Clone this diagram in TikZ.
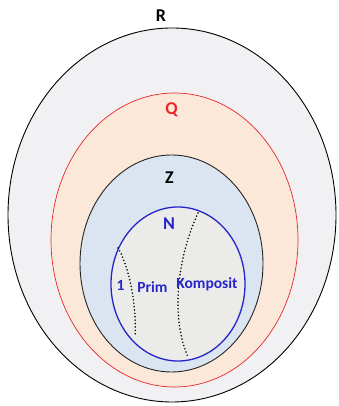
\documentclass[tikz,border=0pt]{standalone}
\usepackage{fontspec}
\setmainfont{Carlito}
\usepackage{xcolor}
\usepackage{tikz}
\usetikzlibrary{positioning, shapes.geometric}

\definecolor{setgray}{HTML}{F1F1F3}
\definecolor{setpeach}{HTML}{FCE8D8}
\definecolor{setblue}{HTML}{DBE5F1}
\definecolor{setspeck}{HTML}{EBEBEA}
\definecolor{qred}{HTML}{E8262A}
\definecolor{nblue}{HTML}{2626C8}

\begin{document}
\begin{tikzpicture}[
    x=1pt, y=1pt,
    numset/.style={ellipse, draw, inner sep=0pt},
    setlabel/.style={font=\fontsize{18}{21}\selectfont\bfseries, inner sep=0pt},
    partlabel/.style={font=\fontsize{15.5}{18}\selectfont\bfseries, text=nblue, inner sep=0pt},
    divider/.style={line width=1.7pt, line cap=round, dash pattern=on 0pt off 3.4pt}
]
\useasboundingbox (0,0) rectangle (339,406);

\node[numset, fill=setgray, line width=0.9pt, minimum width=328pt, minimum height=374pt] (setR) at (172,191) {};
\node[numset, fill=setpeach, draw=qred, line width=0.7pt, minimum width=247pt, minimum height=294pt] (setQ) at (174.5,166) {};
\node[numset, fill=setblue, draw=black!85, line width=0.9pt, minimum width=183pt, minimum height=217pt] (setZ) at (171.5,142.5) {};
\node[numset, fill=setspeck, draw=nblue, line width=1.3pt, minimum width=134pt, minimum height=154pt] (setN) at (178,122) {};

\node[setlabel, above=6pt of setR.north, xshift=-11pt] (labR) {R};
\node[setlabel, text=qred, below=10pt of setQ.north, xshift=-3pt] (labQ) {Q};
\node[setlabel, below=17pt of setZ.north, xshift=-2pt] (labZ) {Z};
\node[setlabel, text=nblue, below=11pt of setN.north, xshift=-9pt] (labN) {N};

% splitting N into 1, Prim, Komposit
\coordinate (d1a) at (118,158);
\coordinate (d1b) at (135,69);
\coordinate (d2a) at (198,193);
\coordinate (d2b) at (188,49);
\draw[divider] (d1a) .. controls (129,140) and (137,100) .. (d1b);
\draw[divider] (d2a) .. controls (178,150) and (170,90) .. (d2b);

\node[partlabel] (one)  at (120.5,121) {1};
\node[partlabel] (prim) at (152.5,119) {Prim};
\node[partlabel] (komp) at (207,122) {Komposit};
\end{tikzpicture}
\end{document}
